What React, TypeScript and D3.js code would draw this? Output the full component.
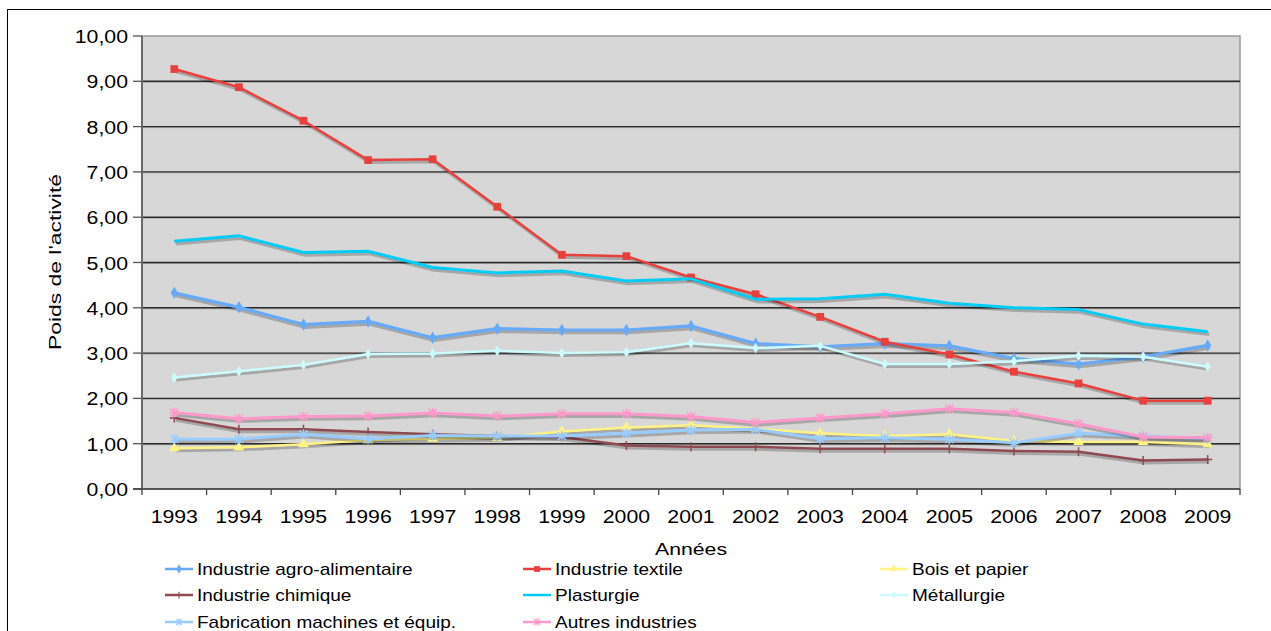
import React from 'react';
import * as d3 from 'd3';

const years = [1993, 1994, 1995, 1996, 1997, 1998, 1999, 2000, 2001, 2002, 2003, 2004, 2005, 2006, 2007, 2008, 2009];

const agro = [4.33, 4.01, 3.63, 3.70, 3.34, 3.54, 3.51, 3.51, 3.60, 3.21, 3.14, 3.21, 3.16, 2.88, 2.76, 2.92, 3.17];
const textile = [9.27, 8.87, 8.13, 7.26, 7.28, 6.23, 5.17, 5.14, 4.67, 4.30, 3.80, 3.25, 2.97, 2.59, 2.33, 1.95, 1.95];
const bois = [0.90, 0.92, 0.99, 1.08, 1.11, 1.13, 1.27, 1.36, 1.41, 1.33, 1.23, 1.17, 1.21, 1.06, 1.04, 1.04, 0.99];
const chimique = [1.57, 1.32, 1.32, 1.26, 1.21, 1.17, 1.15, 0.96, 0.93, 0.93, 0.89, 0.89, 0.89, 0.84, 0.82, 0.63, 0.65];
const plasturgie = [5.47, 5.59, 5.22, 5.25, 4.89, 4.77, 4.81, 4.59, 4.64, 4.19, 4.20, 4.30, 4.10, 4.00, 3.96, 3.64, 3.47];
const metallurgie = [2.46, 2.60, 2.74, 2.98, 2.99, 3.05, 3.00, 3.02, 3.22, 3.11, 3.16, 2.76, 2.76, 2.82, 2.94, 2.92, 2.70];
const fabrication = [1.10, 1.10, 1.21, 1.11, 1.18, 1.17, 1.17, 1.23, 1.30, 1.32, 1.11, 1.13, 1.10, 1.02, 1.23, 1.17, 1.11];
const autres = [1.69, 1.55, 1.60, 1.61, 1.68, 1.61, 1.66, 1.66, 1.60, 1.47, 1.57, 1.66, 1.77, 1.69, 1.44, 1.15, 1.13];

const yTicks = [0, 1, 2, 3, 4, 5, 6, 7, 8, 9, 10];
const yTickLabels = ['0,00', '1,00', '2,00', '3,00', '4,00', '5,00', '6,00', '7,00', '8,00', '9,00', '10,00'];

type Marker = 'diamond' | 'square' | 'triangle' | 'plus' | 'none' | 'smalldiamond' | 'star' | 'asterisk';
interface Series { name: string; values: number[]; color: string; marker: Marker; width: number; }

const series: Series[] = [
  { name: 'Industrie agro-alimentaire', values: agro, color: '#66aaf8', marker: 'diamond', width: 3.2 },
  { name: 'Industrie textile', values: textile, color: '#e8403c', marker: 'square', width: 2.5 },
  { name: 'Bois et papier', values: bois, color: '#fff385', marker: 'triangle', width: 2.5 },
  { name: 'Industrie chimique', values: chimique, color: '#8e4a50', marker: 'plus', width: 2.5 },
  { name: 'Plasturgie', values: plasturgie, color: '#00ccf5', marker: 'none', width: 3 },
  { name: 'Métallurgie', values: metallurgie, color: '#ccfcff', marker: 'smalldiamond', width: 2.5 },
  { name: 'Fabrication machines et équip.', values: fabrication, color: '#99ccff', marker: 'star', width: 3 },
  { name: 'Autres industries', values: autres, color: '#ff99cc', marker: 'asterisk', width: 3 },
];

const FONT = 'Arial, "Liberation Sans", sans-serif';
const SX = 1.12;

function MarkerShape({ type, color, x, y, scale = 1 }: { type: Marker; color: string; x: number; y: number; scale?: number }) {
  const t = `translate(${x},${y}) scale(${scale})`;
  switch (type) {
    case 'diamond':
      return <path transform={t} d={d3.symbol(d3.symbolDiamond, 45)()!} fill={color} />;
    case 'smalldiamond':
      return <path transform={t} d={d3.symbol(d3.symbolDiamond, 34)()!} fill={color} />;
    case 'square':
      return <path transform={t} d={d3.symbol(d3.symbolSquare, 60)()!} fill={color} />;
    case 'triangle':
      return <path transform={t} d={d3.symbol(d3.symbolTriangle, 50)()!} fill={color} />;
    case 'plus':
      return <path transform={t} d="M-4.5,0H4.5M0,-4.5V4.5" stroke={color} strokeWidth={1.5} fill="none" />;
    case 'star':
      return <path transform={t} d="M-4,-4L4,4M-4,4L4,-4M0,-5V5" stroke={color} strokeWidth={1.5} fill="none" />;
    case 'asterisk':
      return <path transform={t} d="M-4,-4L4,4M-4,4L4,-4M0,-5V5M-5,0H5" stroke={color} strokeWidth={1.5} fill="none" />;
    default:
      return null;
  }
}

function STxt({ x, y, anchor, size, children }: { x: number; y: number; anchor: string; size: number; children: React.ReactNode }) {
  return (
    <g transform={`translate(${x},${y}) scale(${SX},1)`}>
      <text x={0} y={0} textAnchor={anchor as any} fontSize={size} fontFamily={FONT} fill="#000">{children}</text>
    </g>
  );
}

export default function App() {
  const left = 142, right = 1240, top = 36, bottom = 489;
  const x = d3.scaleBand<number>().domain(years).range([left, right]).paddingInner(0).paddingOuter(0);
  const cx = (yr: number) => (x(yr) as number) + x.bandwidth() / 2;
  const y = d3.scaleLinear().domain([0, 10]).range([bottom, top]);
  const lineGen = d3.line<number>().x((_, i) => cx(years[i])).y(d => y(d));

  const legendCols = [165, 523, 880];
  const legendRows = [569, 595, 622];

  return (
    <svg width={1271} height={631} style={{ position: 'absolute', left: 0, top: 0, background: '#fff' }}>
      <rect x={7.5} y={9.5} width={1400} height={800} fill="#fff" stroke="#000" strokeWidth={1} />
      <rect x={left} y={top} width={right - left} height={bottom - top} fill="#d7d7d7" stroke="#9a9a9a" strokeWidth={1.5} />
      {yTicks.filter(v => v > 0 && v < 10).map(v => (
        <g key={'g' + v}>
          <line x1={left} x2={right} y1={y(v) + 1} y2={y(v) + 1} stroke="#aaa" strokeWidth={1} />
          <line x1={left} x2={right} y1={y(v)} y2={y(v)} stroke="#2a2a2a" strokeWidth={1.4} />
        </g>
      ))}
      <line x1={left} x2={left} y1={top} y2={bottom} stroke="#6a6a6a" strokeWidth={2} />
      {yTicks.map((v, i) => (
        <g key={'yt' + v}>
          <line x1={left - 9} x2={left} y1={y(v)} y2={y(v)} stroke="#555" strokeWidth={1.3} />
          <STxt x={128} y={y(v) + 7} anchor="end" size={19}>{yTickLabels[i]}</STxt>
        </g>
      ))}
      <line x1={left - 9} x2={right} y1={bottom} y2={bottom} stroke="#3a3a3a" strokeWidth={1.6} />
      {years.map(yr => (
        <line key={'xt' + yr} x1={x(yr)} x2={x(yr)} y1={bottom} y2={bottom + 6} stroke="#444" strokeWidth={1.3} />
      ))}
      <line x1={right} x2={right} y1={bottom} y2={bottom + 6} stroke="#444" strokeWidth={1.3} />
      {years.map(yr => (
        <STxt key={'xl' + yr} x={cx(yr)} y={523} anchor="middle" size={19}>{yr}</STxt>
      ))}
      <text transform={`translate(61,262) rotate(-90)`} textAnchor="middle" fontSize={17} fontFamily={FONT}
        textLength={176} lengthAdjust="spacingAndGlyphs">Poids de l'activité</text>
      <text x={691} y={555} textAnchor="middle" fontSize={16} fontFamily={FONT}
        textLength={72} lengthAdjust="spacingAndGlyphs">Années</text>
      {series.map(s => (
        <g key={s.name}>
          <path d={lineGen(s.values)!} fill="none" stroke="#000" strokeOpacity={0.22} strokeWidth={s.width + 0.5}
            transform="translate(1.5,2.5)" strokeLinejoin="round" />
          <path d={lineGen(s.values)!} fill="none" stroke={s.color} strokeWidth={s.width} strokeLinejoin="round" />
          {s.values.map((v, i) => (
            <MarkerShape key={i} type={s.marker} color={s.color} x={cx(years[i])} y={y(v)} />
          ))}
        </g>
      ))}
      {series.map((s, i) => {
        const lx = legendCols[i % 3];
        const ly = legendRows[Math.floor(i / 3)];
        return (
          <g key={'lg' + s.name}>
            <line x1={lx} x2={lx + 28} y1={ly} y2={ly} stroke={s.color} strokeWidth={2.5} />
            <MarkerShape type={s.marker} color={s.color} x={lx + 14} y={ly} scale={0.75} />
            <STxt x={lx + 32} y={ly + 6} anchor="start" size={17}>{s.name}</STxt>
          </g>
        );
      })}
    </svg>
  );
}
